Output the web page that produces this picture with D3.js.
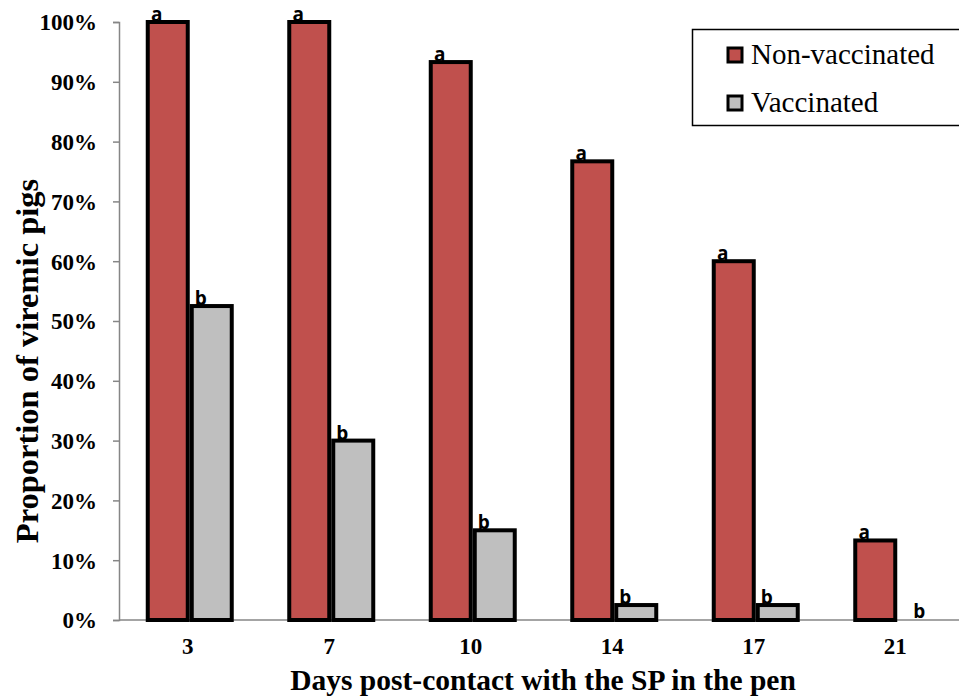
<!DOCTYPE html>
<html><head><meta charset="utf-8">
<script src="https://cdn.jsdelivr.net/npm/d3@7"></script>
<style>body{margin:0;background:#fff}svg{display:block}</style>
</head><body>
<script>
const days = ["3","7","10","14","17","21"];
const nonVaccinated = [100, 100, 93.3, 76.7, 60, 13.3];
const vaccinated = [52.5, 30, 15, 2.5, 2.5, 0];
const nonVacLetters = ["a","a","a","a","a","a"];
const vacLetters = ["b","b","b","b","b","b"];
const yTicks = [0,10,20,30,40,50,60,70,80,90,100];
const seriesNames = ["Non-vaccinated","Vaccinated"];
const colors = ["#c0504d","#bfbfbf"];

const SERIF = "'Liberation Serif', 'Times New Roman', serif";
const SANS = "'Open Sans', 'DejaVu Sans', sans-serif";
const W = 959, H = 699;
const svg = d3.select("body").append("svg").attr("width", W).attr("height", H);
const x0 = 119, y0 = 620, yTop = 22;
const x = d3.scaleBand().domain(days).range([x0, x0 + 6*141.5]).paddingInner(0).paddingOuter(0);
const y = d3.scaleLinear().domain([0,100]).range([y0, yTop]);

// axes
const yAxis = d3.axisLeft(y).tickValues(yTicks).tickFormat(d => d + "%").tickSize(6).tickPadding(16);
const gy = svg.append("g").attr("transform", `translate(${x0},0)`).call(yAxis);
gy.select(".domain").attr("stroke", "#868686").attr("stroke-width", 1.5);
gy.selectAll(".tick line").attr("stroke", "#868686").attr("stroke-width", 1.5);
gy.selectAll(".tick text").style("font-family", SERIF)
  .style("font-weight", "bold").style("font-size", "23px").attr("fill", "#000").attr("dy", "0.34em");

svg.append("line").attr("x1", x0).attr("x2", W).attr("y1", y0).attr("y2", y0)
  .attr("stroke", "#868686").attr("stroke-width", 1.5);

const barW = 40, gap = 4;
const groups = [
  {vals: nonVaccinated, letters: nonVacLetters, off: -gap/2 - barW, color: colors[0]},
  {vals: vaccinated, letters: vacLetters, off: gap/2, color: colors[1]}
];
groups.forEach(g => {
  days.forEach((d, i) => {
    const cx = x(d) + x.bandwidth()/2;
    const v = g.vals[i];
    const bx = cx + g.off;
    if (v > 0) {
      svg.append("rect").attr("x", bx).attr("y", y(v)).attr("width", barW).attr("height", y0 - y(v))
        .attr("fill", g.color).attr("stroke", "#000").attr("stroke-width", 4);
    }
    svg.append("text").attr("x", v > 0 ? bx + barW/2 - 11 : bx + barW/2)
      .attr("y", y(v) - (v > 0 ? 1 : 2))
      .attr("text-anchor", "middle").style("font-family", SANS)
      .style("font-weight", "bold").style("font-size", "19px").text(g.letters[i]);
  });
});

// x tick labels
svg.append("g").selectAll("text").data(days).join("text")
  .attr("x", d => x(d) + x.bandwidth()/2 - 2).attr("y", 654)
  .attr("text-anchor", "middle").style("font-family", SERIF)
  .style("font-weight", "bold").style("font-size", "23px").text(d => d);

// axis titles
svg.append("text").attr("x", 543).attr("y", 690).attr("text-anchor", "middle")
  .style("font-family", SERIF).style("font-weight", "bold")
  .style("font-size", "29.5px").text("Days post-contact with the SP in the pen");
svg.append("text").attr("transform", "translate(38,361) rotate(-90)").attr("text-anchor", "middle")
  .style("font-family", SERIF).style("font-weight", "bold")
  .style("font-size", "32.5px").text("Proportion of viremic pigs");

// legend
const lg = svg.append("g");
lg.append("rect").attr("x", 692.5).attr("y", 29.5).attr("width", 280).attr("height", 96)
  .attr("fill", "#fff").attr("stroke", "#000").attr("stroke-width", 1.5);
seriesNames.forEach((n, i) => {
  const yy = 55 + i*48;
  lg.append("rect").attr("x", 728).attr("y", yy - 7).attr("width", 14).attr("height", 14)
    .attr("fill", colors[i]).attr("stroke", "#000").attr("stroke-width", 3);
  lg.append("text").attr("x", 751).attr("y", yy + 9).style("font-family", SERIF)
    .style("font-size", "29px").text(n);
});
</script>
</body></html>
